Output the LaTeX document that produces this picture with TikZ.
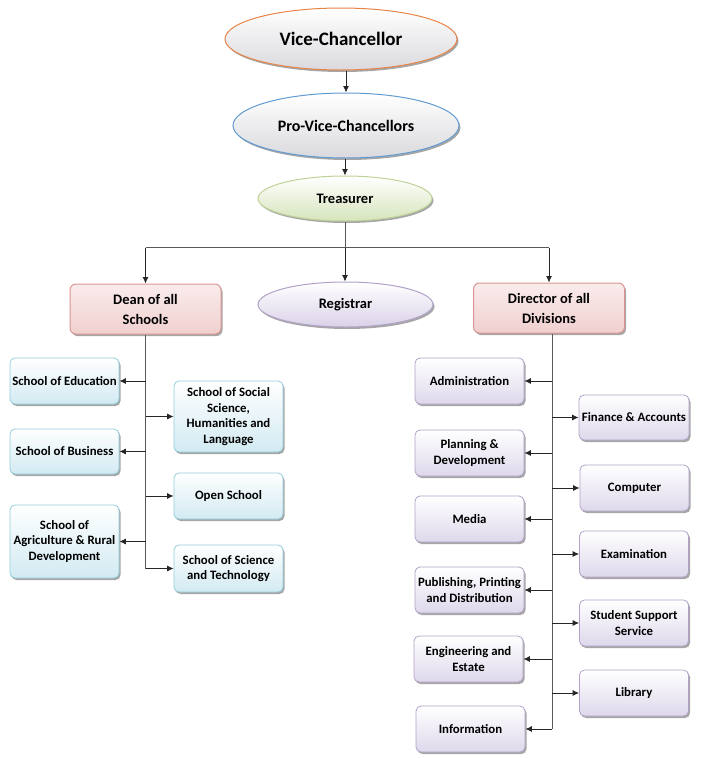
\documentclass[tikz,border=0pt]{standalone}
\usepackage{fontspec}
\setmainfont{Carlito}
\usetikzlibrary{shapes.geometric,shadows,arrows.meta}

\definecolor{vcbordo}{RGB}{232,132,70}
\definecolor{pvcbordo}{RGB}{98,155,210}
\definecolor{grigio}{RGB}{218,218,222}
\definecolor{trebordo}{RGB}{190,210,150}
\definecolor{trefondo}{RGB}{214,228,188}
\definecolor{regbordo}{RGB}{178,162,199}
\definecolor{regfondo}{RGB}{218,210,232}
\definecolor{capobordo}{RGB}{217,150,148}
\definecolor{capotop}{RGB}{250,236,236}
\definecolor{capofondo}{RGB}{240,208,207}
\definecolor{scuolabordo}{RGB}{146,205,220}
\definecolor{scuolafondo}{RGB}{210,234,242}
\definecolor{divbordo}{RGB}{178,162,199}
\definecolor{divfondo}{RGB}{222,216,235}

\tikzset{
  ombra/.style={drop shadow={shadow xshift=1.5pt,shadow yshift=-2pt,opacity=0.35,fill=black}},
  ovale/.style={ellipse, ombra, draw, line width=1pt, inner sep=0pt, top color=white},
  capo/.style={rectangle, rounded corners=6pt, ombra, draw=capobordo, line width=1pt,
    top color=capotop, bottom color=capofondo, minimum width=151pt, minimum height=50pt,
    align=center, font=\fontsize{14.5}{20}\selectfont\bfseries},
  scuola/.style={rectangle, rounded corners=5pt, ombra, draw=scuolabordo, line width=0.8pt,
    top color=white, bottom color=scuolafondo, minimum width=109pt, minimum height=46pt,
    inner sep=1pt, align=center, font=\fontsize{12.8}{15.8}\selectfont\bfseries},
  divisione/.style={scuola, draw=divbordo, bottom color=divfondo},
  freccia/.style={-{Latex[length=6.5pt,width=6pt]}, line width=0.8pt, draw=black!85},
  linea/.style={line width=0.8pt, draw=black!65}
}

\begin{document}
\begin{tikzpicture}[x=1pt,y=-1pt]
    \useasboundingbox (0,0) rectangle (701,758);
    % Vertice
    \node[ovale, draw=vcbordo, bottom color=grigio, minimum width=232pt, minimum height=62pt,
      font=\fontsize{19}{22}\selectfont\bfseries] (vc) at (341,39) {Vice-Chancellor};
    \node[ovale, draw=pvcbordo, bottom color=grigio, minimum width=226pt, minimum height=65pt,
      font=\fontsize{16}{19}\selectfont\bfseries] (pvc) at (346,125.5) {Pro-Vice-Chancellors};
    \node[ovale, draw=trebordo, bottom color=trefondo, minimum width=174pt, minimum height=45pt,
      font=\fontsize{14.5}{17}\selectfont\bfseries] (tre) at (345,198.5) {Treasurer};
    \node[ovale, draw=regbordo, bottom color=regfondo, minimum width=175pt, minimum height=45pt,
      font=\fontsize{14.5}{17}\selectfont\bfseries] (reg) at (345.5,304.5) {Registrar};
    \node[capo] (dean) at (145.5,309) {Dean of all\\Schools};
    \node[capo] (dir) at (549,308) {Director of all\\Divisions};
    % Scuole
    \node[scuola] (edu) at (64.5,381) {School of Education};
    \node[scuola, minimum height=45pt] (bus) at (64.5,451.5) {School of Business};
    \node[scuola, minimum height=73pt] (agr) at (64.5,541.5) {School of\\Agriculture \& Rural\\Development};
    \node[scuola, minimum height=71pt] (sss) at (228.5,416.5) {School of Social\\Science,\\Humanities and\\Language};
    \node[scuola] (open) at (228.5,496) {Open School};
    \node[scuola, minimum height=47pt] (sci) at (228.5,568.5) {School of Science\\and Technology};
    % Divisioni
    \node[divisione] (adm) at (469.5,381) {Administration};
    \node[divisione] (pla) at (469.5,453) {Planning \&\\Development};
    \node[divisione] (med) at (469.5,519) {Media};
    \node[divisione] (pub) at (469.5,590) {Publishing, Printing\\and Distribution};
    \node[divisione] (eng) at (468.5,659) {Engineering and\\Estate};
    \node[divisione] (inf) at (470.5,729) {Information};
    \node[divisione, minimum width=110pt, minimum height=45pt] (fin) at (634,417.5) {Finance \& Accounts};
    \node[divisione] (com) at (634.5,488) {Computer};
    \node[divisione] (exa) at (634,554) {Examination};
    \node[divisione] (stu) at (634,623) {Student Support\\Service};
    \node[divisione] (lib) at (634,693) {Library};
    % Frecce in alto
    \draw[freccia] (vc.south -| pvc.north) -- (pvc.north);
    \draw[freccia] (pvc.south -| tre.north) -- (tre.north);
    \draw[linea] (tre.south) -- ++(0,26) coordinate (bivio);
    \draw[linea] (bivio -| dean.north) -- (bivio -| dir.north);
    \draw[freccia] (bivio) -- (bivio |- reg.north);
    \draw[freccia] (bivio -| dean.north) -- (dean.north);
    \draw[freccia] (bivio -| dir.north) -- (dir.north);
    % Tronco scuole
    \draw[linea] (dean.south) -- (dean.south |- sci.west);
    \draw[freccia] (dean.south |- edu.east) -- (edu.east);
    \draw[freccia] (dean.south |- bus.east) -- (bus.east);
    \draw[freccia] (dean.south |- agr.east) -- (agr.east);
    \draw[freccia] (dean.south |- sss.west) -- (sss.west);
    \draw[freccia] (dean.south |- open.west) -- (open.west);
    \draw[freccia] (dean.south |- sci.west) -- (sci.west);
    % Tronco divisioni
    \coordinate (tronco) at ([xshift=3pt]dir.south);
    \draw[linea] (tronco) -- (tronco |- inf.east);
    \draw[freccia] (tronco |- adm.east) -- (adm.east);
    \draw[freccia] (tronco |- pla.east) -- (pla.east);
    \draw[freccia] (tronco |- med.east) -- (med.east);
    \draw[freccia] (tronco |- pub.east) -- (pub.east);
    \draw[freccia] (tronco |- eng.east) -- (eng.east);
    \draw[freccia] (tronco |- inf.east) -- (inf.east);
    \draw[freccia] (tronco |- fin.west) -- (fin.west);
    \draw[freccia] (tronco |- com.west) -- (com.west);
    \draw[freccia] (tronco |- exa.west) -- (exa.west);
    \draw[freccia] (tronco |- stu.west) -- (stu.west);
    \draw[freccia] (tronco |- lib.west) -- (lib.west);
\end{tikzpicture}
\end{document}
